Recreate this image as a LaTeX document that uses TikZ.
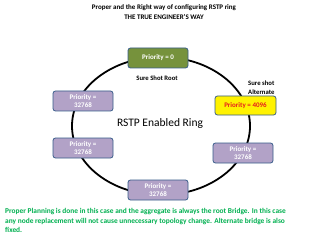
\documentclass[tikz,border=0pt]{standalone}
\usepackage{fontspec}
\setmainfont{Carlito}
\definecolor{boxgreen}{RGB}{118,146,60}
\definecolor{boxpurple}{RGB}{178,162,199}
\definecolor{boxline}{RGB}{56,93,138}
\definecolor{txtgreen}{RGB}{0,176,80}
\definecolor{txtred}{RGB}{230,30,30}
\begin{document}
\begin{tikzpicture}[x=1pt,y=-1pt,
  prio/.style={draw=boxline,line width=0.8pt,rounded corners=2.5pt,minimum width=60pt,minimum height=20pt,inner sep=1pt,align=center,font=\fontsize{7}{8}\selectfont\bfseries},
  greenbox/.style={prio,fill=boxgreen,text=white},
  purplebox/.style={prio,fill=boxpurple,text=white},
  yellowbox/.style={prio,fill=yellow,text=txtred,minimum width=61pt,minimum height=19pt},
  lbl/.style={font=\fontsize{6.7}{8}\selectfont\bfseries,inner sep=0pt}]
\useasboundingbox (0,0) rectangle (320,240);
\fill[white] (0,0) rectangle (320,240);
\node[font=\fontsize{7}{10}\selectfont\bfseries,align=center,inner sep=0pt] (title) at (164,12) {Proper and the Right way of configuring RSTP ring\\THE TRUE ENGINEER'S WAY};
\draw[line width=1.8pt] (161,126) ellipse [x radius=89, y radius=69];
\node[font=\fontsize{11.5}{13}\selectfont,inner sep=0pt] (ring) at (160,123) {RSTP Enabled Ring};
\node[greenbox] (root) at (158,58) {Priority = 0};
\node[lbl] (rootlbl) at (157,78) {Sure Shot Root};
\node[yellowbox] (alt) at (245.5,105.5) {Priority = 4096};
\node[lbl,align=left,anchor=west,font=\fontsize{6.7}{9}\selectfont\bfseries] (altlbl) at (248,87.5) {Sure shot\\Alternate};
\node[purplebox] (l1) at (83,101) {Priority =\\32768};
\node[purplebox] (l2) at (83,148) {Priority =\\32768};
\node[purplebox] (r1) at (243,153) {Priority =\\32768};
\node[purplebox] (bot) at (158,190) {Priority =\\32768};
\node[font=\fontsize{7.4}{9.5}\selectfont\bfseries,text=txtgreen,align=left,anchor=north west,inner sep=0pt] (note) at (5,208.5) {Proper Planning is done in this case and the aggregate is always the root Bridge. In this case\\any node replacement will not cause unnecessary topology change. Alternate bridge is also\\fixed.};
\end{tikzpicture}
\end{document}
